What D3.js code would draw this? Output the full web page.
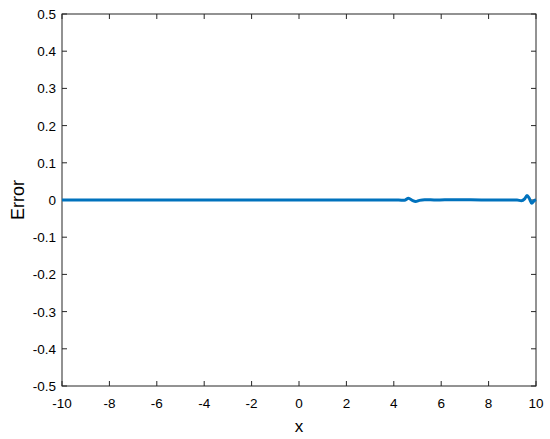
<!DOCTYPE html>
<html><head><meta charset="utf-8">
<script src="https://cdn.jsdelivr.net/npm/d3@7"></script>
<style>body{margin:0;background:#fff}svg{display:block}text{font-family:"Liberation Sans",Arial,sans-serif}</style>
</head><body><svg id="c" width="550" height="439"></svg>
<script>
const xValues = [-10, -6, -2, 2, 4.2, 4.45, 4.62, 4.78, 4.92, 5.08, 5.3, 5.8, 6.5, 8, 9.2, 9.38, 9.52, 9.62, 9.72, 9.82, 9.92, 10];
const errValues = [0, 0, 0, 0, 0, -0.001, 0.005, -0.001, -0.004, -0.001, 0.001, 0, 0.001, 0, 0, -0.002, 0.003, 0.012, 0.004, -0.009, -0.002, 0.001];
const xTicks = [-10, -8, -6, -4, -2, 0, 2, 4, 6, 8, 10];
const yTicks = [-0.5, -0.4, -0.3, -0.2, -0.1, 0, 0.1, 0.2, 0.3, 0.4, 0.5];

const svg = d3.select("#c");
const L = 62, R = 536, T = 14, B = 386;
const x = d3.scaleLinear().domain([-10, 10]).range([L, R]);
const y = d3.scaleLinear().domain([-0.5, 0.5]).range([B, T]);
const col = "#262626", tl = 5, fs = 13.5;

const g = svg.append("g");
g.append("rect").attr("x", L).attr("y", T).attr("width", R - L).attr("height", B - T)
  .attr("fill", "none").attr("stroke", col).attr("stroke-width", 1);

xTicks.forEach(v => {
  const px = x(v);
  g.append("line").attr("x1", px).attr("x2", px).attr("y1", B).attr("y2", B - tl).attr("stroke", col);
  g.append("line").attr("x1", px).attr("x2", px).attr("y1", T).attr("y2", T + tl).attr("stroke", col);
  g.append("text").attr("x", px).attr("y", B + 22).attr("text-anchor", "middle")
    .attr("font-size", fs).attr("fill", "#000").text(String(v));
});
yTicks.forEach(v => {
  const py = y(v);
  g.append("line").attr("x1", L).attr("x2", L + tl).attr("y1", py).attr("y2", py).attr("stroke", col);
  g.append("line").attr("x1", R).attr("x2", R - tl).attr("y1", py).attr("y2", py).attr("stroke", col);
  g.append("text").attr("x", L - 6).attr("y", py + 5).attr("text-anchor", "end")
    .attr("font-size", fs).attr("fill", "#000").text(String(v));
});

g.append("text").attr("x", (L + R) / 2).attr("y", 432).attr("text-anchor", "middle")
  .attr("font-size", 17).attr("fill", "#000").text("x");
g.append("text").attr("transform", `translate(24,${(T + B) / 2}) rotate(-90)`).attr("text-anchor", "middle")
  .attr("font-size", 18).attr("fill", "#000").text("Error");

const data = xValues.map((v, i) => [v, errValues[i]]);
g.append("path").datum(data)
  .attr("d", d3.line().x(d => x(d[0])).y(d => y(d[1])).curve(d3.curveMonotoneX))
  .attr("fill", "none").attr("stroke", "#0072BD").attr("stroke-width", 3);
</script></body></html>
